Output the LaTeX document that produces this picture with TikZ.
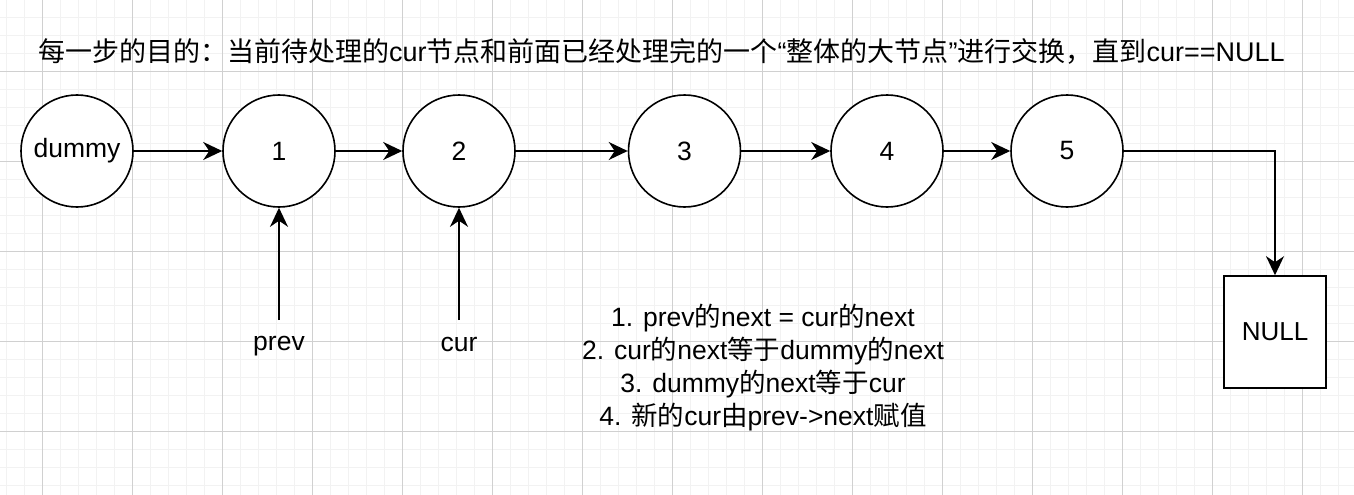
\documentclass[tikz,border=0pt]{standalone}
\usepackage{fontspec}
\setmainfont{Liberation Sans}
\newfontfamily\cjk{Noto Sans CJK SC}
\newcommand\zh[1]{{\cjk #1}}
\usetikzlibrary{arrows.meta}
\definecolor{gridminor}{HTML}{F2F2F2}
\definecolor{gridmajor}{HTML}{D0D0D0}
\tikzset{
  listnode/.style={circle, draw=black, line width=1.6pt, fill=white, minimum size=112pt, inner sep=0pt, font=\fontsize{26.5}{30}\selectfont},
  nullbox/.style={rectangle, draw=black, line width=1.6pt, fill=white, minimum width=102pt, minimum height=112pt, inner sep=0pt, font=\fontsize{26}{30}\selectfont},
  link/.style={line width=1.6pt, -{Stealth[length=19pt,width=18pt,inset=6pt]}},
  label/.style={inner sep=0pt, font=\fontsize{26.5}{30}\selectfont},
}
\begin{document}
\begin{tikzpicture}[x=1pt,y=-1pt]
\useasboundingbox (0,0) rectangle (1354,495);
\fill[white] (0,0) rectangle (1354,495);
% grid
\foreach \x in {6.7,24.7,...,1354} \draw[gridminor, line width=1pt] (\x,0) -- (\x,495);
\foreach \y in {17.5,35.5,...,495} \draw[gridminor, line width=1pt] (0,\y) -- (1354,\y);
\foreach \x in {42.7,132.7,...,1354} \draw[gridmajor, line width=1pt] (\x,0) -- (\x,495);
\foreach \y in {71.5,161.5,...,495} \draw[gridmajor, line width=1pt] (0,\y) -- (1354,\y);

% title
\node[label, font=\fontsize{27}{30}\selectfont] (title) at (661.5,51) {\zh{每一步的目的：当前待处理的}cur\zh{节点和前面已经处理完的一个}“\zh{整体的大节点}”\zh{进行交换，直到}cur==NULL};

% list nodes
\node[listnode] (d) at (77,151) {\raisebox{-2pt}{dummy}};
\node[listnode] (n1) at (279,151) {1};
\node[listnode] (n2) at (459,151) {2};
\node[listnode] (n3) at (684.5,151) {3};
\node[listnode] (n4) at (887,151) {4};
\node[listnode] (n5) at (1067,151) {5};
\node[nullbox] (null) at (1275,332) {NULL};

\draw[link] (d) -- (n1);
\draw[link] (n1) -- (n2);
\draw[link] (n2) -- (n3);
\draw[link] (n3) -- (n4);
\draw[link] (n4) -- (n5);
\draw[link] (n5.east) -| (null.north);

% pointers
\node[label] (prev) at (279,346) {prev};
\node[label] (cur) at (459,344) {cur};
\coordinate (pprev) at (279,320);
\coordinate (pcur) at (459,320);
\draw[link] (pprev) -- (n1.south);
\draw[link] (pcur) -- (n2.south);

% steps
\node[label, align=center, font=\fontsize{26.5}{33}\selectfont] (steps) at (763,368) {%
1. prev\zh{的}next = cur\zh{的}next\\
2. cur\zh{的}next\zh{等于}dummy\zh{的}next\\
3. dummy\zh{的}next\zh{等于}cur\\
4. \zh{新的}cur\zh{由}prev->next\zh{赋值}};
\end{tikzpicture}
\end{document}
